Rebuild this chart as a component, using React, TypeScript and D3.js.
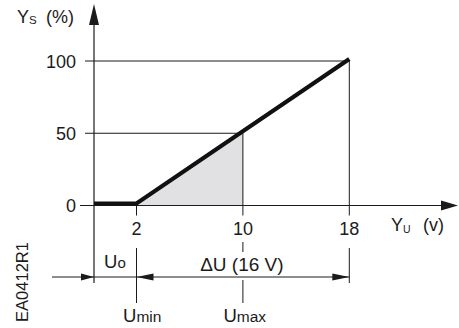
import * as d3 from 'd3'

// values
const xTicks = [2, 10, 18]
const yTicks = [0, 50, 100]
const responseX = [2, 18]
const responseY = [0, 100]
const shadeX = [2, 10, 10]
const shadeY = [0, 50, 0]
const uMin = 2
const uMaxMark = 10
const uEnd = 18
const spanLabel = 'ΔU (16 V)'
const drawingCode = 'EA0412R1'

const W = 459
const H = 328
const axisLeft = 94
const dimY = 277
const font = '"Liberation Sans", Arial, sans-serif'
const ink = '#1b1b1b'

const x = d3.scaleLinear().domain([2, 18]).range([136.5, 349.3])
const y = d3.scaleLinear().domain([0, 100]).range([205.5, 61])

const App = () => {
  const x0 = x.invert(axisLeft)
  const pts: [number, number][] = [[x0, responseY[0]], ...responseX.map((v, i) => [v, responseY[i]] as [number, number])]
  const line = d3
    .line<[number, number]>()
    .x((d) => x(d[0]))
    .y((d) => y(d[1]))
  const shade = shadeX.map((v, i) => [v, shadeY[i]] as [number, number])
  const base = y(0)

  const arrow = (tipX: number, tipY: number, dir: number, len: number, half: number) =>
    `M${tipX},${tipY}L${tipX - dir * len},${tipY - half}L${tipX - dir * len},${tipY + half}Z`

  return (
    <svg width={W} height={H} style={{ position: 'absolute', left: 0, top: 0, background: '#fff' }} fontFamily={font}>
      {/* shaded triangle */}
      <path d={line(shade) + 'Z'} fill="#e1e1e4" />

      {/* guide lines */}
      <g stroke={ink} strokeWidth={1} fill="none">
        <line x1={85} x2={x(18)} y1={y(100)} y2={y(100)} />
        <line x1={85} x2={x(10)} y1={y(50)} y2={y(50)} />
        <line x1={x(10)} x2={x(10)} y1={y(50)} y2={base + 10} />
        <line x1={x(18)} x2={x(18)} y1={y(100)} y2={base + 10} />
        <line x1={x(2)} x2={x(2)} y1={base} y2={base + 10} />
      </g>

      {/* axes */}
      <g stroke={ink} strokeWidth={1.2}>
        <line x1={axisLeft} x2={axisLeft} y1={24} y2={283} />
        <line x1={80} x2={443} y1={base} y2={base} />
      </g>
      <path d={`M${axisLeft},4L${axisLeft - 5},25L${axisLeft + 5},25Z`} fill={ink} />
      <path d={arrow(458, base, 1, 17, 5)} fill={ink} />

      {/* response */}
      <path d={line(pts) ?? ''} fill="none" stroke="#111" strokeWidth={4.2} transform="translate(0,-2)" />

      {/* tick labels */}
      <g fontSize={18} fill={ink}>
        {yTicks.map((t) => (
          <text key={t} x={76} y={y(t) + 6.5} textAnchor="end">
            {t}
          </text>
        ))}
        {xTicks.map((t) => (
          <text key={t} x={x(t)} y={235} textAnchor="middle">
            {t}
          </text>
        ))}
      </g>

      {/* axis titles */}
      <text x={17} y={23} fontSize={18} fill={ink}>
        Y<tspan fontSize={11.5} dy={1}>S</tspan>
        <tspan dy={-1} x={46}>(%)</tspan>
      </text>
      <text x={391} y={231} fontSize={18} fill={ink}>
        Y<tspan fontSize={10.5} dy={2}>U</tspan>
        <tspan dy={-2} x={423}>(v)</tspan>
      </text>

      {/* dimension lines */}
      <g stroke={ink} strokeWidth={1}>
        <line x1={x(uMin)} x2={x(uMin)} y1={248} y2={303} />
        <line x1={x(uMaxMark)} x2={x(uMaxMark)} y1={242} y2={252} />
        <line x1={x(uMaxMark)} x2={x(uMaxMark)} y1={280} y2={303} />
        <line x1={x(uEnd)} x2={x(uEnd)} y1={248} y2={283} />
        <line x1={52} x2={axisLeft} y1={dimY} y2={dimY} />
        <line x1={axisLeft} x2={x(uEnd)} y1={dimY} y2={dimY} />
      </g>
      <g fill={ink}>
        <path d={arrow(axisLeft, dimY, 1, 13, 3.5)} />
        <path d={arrow(x(uMin), dimY, -1, 17, 3.5)} />
        <path d={arrow(x(uEnd), dimY, 1, 17, 3.5)} />
      </g>

      <g fontSize={18.5} fill={ink}>
        <text x={104} y={268}>
          U<tspan fontSize={15}>o</tspan>
        </text>
        <text x={(x(uMin) + x(uEnd)) / 2 - 1} y={271} textAnchor="middle" fontSize={19}>
          {spanLabel}
        </text>
        <text x={x(uMin) - 13.5} y={322}>
          U<tspan fontSize={15.5}>min</tspan>
        </text>
        <text x={x(uMaxMark) - 19.5} y={322}>
          U<tspan fontSize={15.5}>max</tspan>
        </text>
      </g>

      <text transform="translate(28,282) rotate(-90)" textAnchor="middle" fontSize={16.5} fill={ink}>
        {drawingCode}
      </text>
    </svg>
  )
}

export default App
